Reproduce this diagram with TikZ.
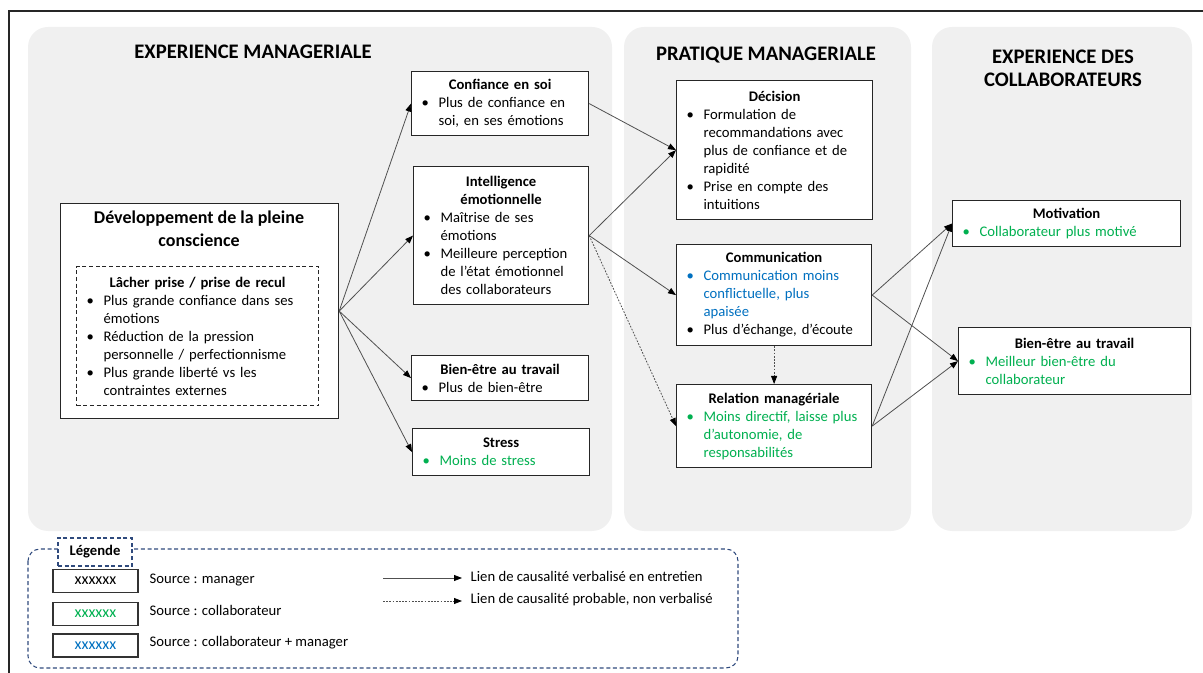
\documentclass[tikz,border=0pt]{standalone}
\usepackage{fontspec}
\setmainfont{Carlito}
\usetikzlibrary{arrows.meta}
\definecolor{panelgray}{HTML}{F0F0F0}
\definecolor{srcgreen}{HTML}{00B050}
\definecolor{srcblue}{HTML}{0070C0}
\definecolor{legnavy}{HTML}{2F4A7D}
\definecolor{linkgray}{HTML}{505050}
\newcommand\bodyfont{\fontsize{11}{13.5}\selectfont}
\newlength\bulpad \setlength\bulpad{6.5pt}
\newlength\bulhang \setlength\bulhang{12.75pt}
% centred bold heading line inside a box
\newcommand\boxtitle[1]{{\centering\bfseries #1\par}}
% bullet item with hanging indent, optional colour
\newcommand\bulitem[2][black]{{\hangindent=\dimexpr\bulpad+\bulhang\relax\hangafter=1\noindent\hspace*{\bulpad}\makebox[\bulhang][l]{\color{#1}\textbullet}\color{#1}#2\par}}
\tikzset{
  panel/.style={fill=panelgray, rounded corners=15pt},
  paneltitle/.style={font=\fontsize{15.5}{17.25}\selectfont\bfseries, align=center},
  mbox/.style={draw=black!85, line width=0.9pt, fill=white, anchor=north west,
    inner xsep=1pt, inner ysep=0pt, align=left, font=\bodyfont},
  link/.style={draw=linkgray, line width=0.6pt, -{Triangle[length=6pt,width=4.5pt,color=black]}},
  probable/.style={link, dash pattern=on 1.3pt off 1.1pt},
  legframe/.style={draw=legnavy, line width=0.8pt, dash pattern=on 3pt off 2pt},
  sample/.style={draw=black!80, line width=0.9pt, minimum width=63.75pt,
    minimum height=17.25pt, inner sep=0pt, font=\fontsize{12}{13}\selectfont},
}
\begin{document}
\begin{tikzpicture}[x=0.75pt, y=-0.75pt, font=\bodyfont]
\useasboundingbox (0,0) rectangle (1203,673);
% outer frame
\draw[line width=1pt, black!85] (9,673) -- (9,11) -- (1203,11);

% background panels
\fill[panel] (28,27) rectangle (612,531);
\fill[panel] (624,27) rectangle (911,531);
\fill[panel] (932,27) rectangle (1192,531);
\node[paneltitle] (t1) at (253,52) {EXPERIENCE MANAGERIALE};
\node[paneltitle] (t2) at (766,55) {PRATIQUE MANAGERIALE};
\node[paneltitle] (t3) at (1063,68.5) {EXPERIENCE DES\\COLLABORATEURS};

% mindfulness development
\node[draw=black!85, line width=0.9pt, fill=white, anchor=north west,
  minimum width=208.5pt, minimum height=161.25pt, inner sep=0pt] (dev) at (60,203) {};
\node[font=\fontsize{13.5}{17.25}\selectfont\bfseries, align=center] (devtitle) at (199,228.5)
  {Développement de la pleine\\conscience};
\node[mbox, dash pattern=on 3pt off 2pt, text width=179.5pt, minimum height=104.25pt] (lacher) at (76,266)
  {\boxtitle{Lâcher prise / prise de recul}%
   \bulitem{Plus grande confiance dans ses\newline émotions}%
   \bulitem{Réduction de la pression\newline personnelle / perfectionnisme}%
   \bulitem{Plus grande liberté vs les\newline contraintes externes}};

% managerial experience
\node[mbox, text width=130.75pt, minimum height=48pt] (conf) at (411,71)
  {\boxtitle{Confiance en soi}\bulitem{Plus de confiance en\newline soi, en ses émotions}};
\node[mbox, text width=129.25pt, minimum height=103.5pt] (intel) at (413,166)
  {\boxtitle{Intelligence}\boxtitle{émotionnelle}%
   \bulitem{Maîtrise de ses\newline émotions}%
   \bulitem{Meilleure perception\newline de l’état émotionnel\newline des collaborateurs}};
\node[mbox, text width=130.75pt, minimum height=33.75pt] (bienL) at (411,355)
  {\boxtitle{Bien-être au travail}\bulitem{Plus de bien-être}};
\node[mbox, text width=130.75pt, minimum height=35.25pt] (stress) at (412,428)
  {\boxtitle{Stress}\bulitem[srcgreen]{Moins de stress}};

% managerial practice
\node[mbox, text width=145pt, minimum height=104.25pt] (dec) at (676,80)
  {\boxtitle{Décision}%
   \bulitem{Formulation de\newline recommandations avec\newline plus de confiance et de\newline rapidité}%
   \bulitem{Prise en compte des\newline intuitions}};
\node[mbox, text width=144.25pt, minimum height=75.75pt] (comm) at (676,244)
  {\boxtitle{Communication}%
   \bulitem[srcblue]{Communication moins\newline conflictuelle, plus\newline apaisée}%
   \bulitem{Plus d’échange, d’écoute}};
\node[mbox, text width=144.25pt, minimum height=62.25pt] (rel) at (676,384)
  {\boxtitle{Relation managériale}%
   \bulitem[srcgreen]{Moins directif, laisse plus\newline d’autonomie, de\newline responsabilités}};

% employees' experience
\node[mbox, text width=169pt, minimum height=34.5pt] (motiv) at (952,200)
  {\boxtitle{Motivation}\bulitem[srcgreen]{Collaborateur plus motivé}};
\node[mbox, text width=172pt, minimum height=50.25pt] (bienR) at (958,327)
  {\boxtitle{Bien-être au travail}\bulitem[srcgreen]{Meilleur bien-être du\newline collaborateur}};

% causal links
\draw[link] (dev.east) -- (conf.west);
\draw[link] (dev.east) -- (intel.west);
\draw[link] (dev.east) -- (bienL.west);
\draw[link] (dev.east) -- (stress.west);
\draw[link] (conf.east) -- (dec.west);
\draw[link] (intel.east) -- (dec.west);
\draw[link] (intel.east) -- (comm.west);
\draw[probable] (intel.east) -- (rel.west);
\draw[probable] (comm.south) -- (rel.north);
\draw[link] (comm.east) -- (motiv.west);
\draw[link] (comm.east) -- (bienR.west);
\draw[link] (rel.east) -- (motiv.west);
\draw[link] (rel.east) -- (bienR.west);

% legend
\draw[legframe, rounded corners=9pt] (28,549) rectangle (738,668);
\node[legframe, fill=white, minimum width=55.5pt, minimum height=21pt, inner sep=0pt,
  font=\bodyfont\bfseries] (legtitle) at (95,552) {Légende};
\node[sample] (s1) at (95.5,581) {xxxxxx};
\node[sample, text=srcgreen] (s2) at (95.5,614) {xxxxxx};
\node[sample, text=srcblue] (s3) at (95.5,645.5) {xxxxxx};
\node[anchor=west] (l1) at (145,580) {Source : manager};
\node[anchor=west] (l2) at (145,610) {Source : collaborateur};
\node[anchor=west] (l3) at (145,643) {Source : collaborateur + manager};
\coordinate (a1s) at (383,578);
\coordinate (a1e) at (462,578);
\draw[link] (a1s) -- (a1e);
\node[anchor=west] (c1) at (466,576) {Lien de causalité verbalisé en entretien};
\coordinate (a2s) at (383,601);
\coordinate (a2e) at (462,601);
\draw[probable] (a2s) -- (a2e);
\node[anchor=west] (c2) at (466,600) {Lien de causalité probable, non verbalisé};
\end{tikzpicture}
\end{document}
